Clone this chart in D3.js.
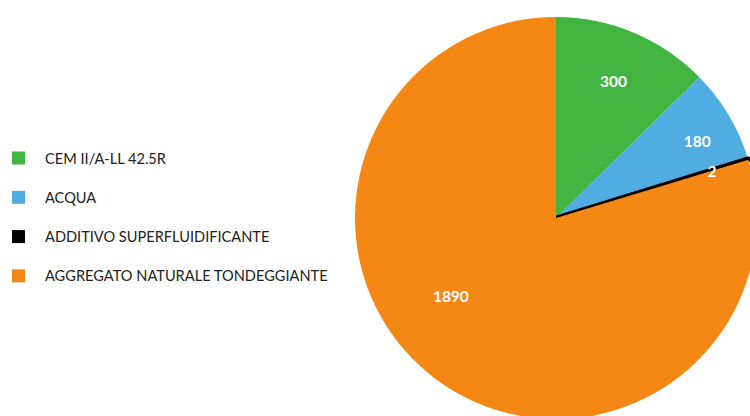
<!DOCTYPE html>
<html>
<head>
<meta charset="utf-8">
<script src="https://cdn.jsdelivr.net/npm/d3@7"></script>
<style>
  html, body { margin: 0; padding: 0; background: #fff; }
  svg { display: block; font-family: Lato, "Open Sans", sans-serif; }
</style>
</head>
<body>
<div id="chart"></div>
<script>
  // chart data
  var categories = ['CEM II/A-LL 42.5R', 'ACQUA', 'ADDITIVO SUPERFLUIDIFICANTE', 'AGGREGATO NATURALE TONDEGGIANTE'];
  var values = [300, 180, 2, 1890];
  var colors = ['#41b53f', '#50ade2', '#000000', '#f58715'];

  var width = 750;
  var height = 416;
  var radius = 201;
  var cx = 556;
  var cy = 218;

  // label placement (fraction of radius, angle shift in degrees) - best fit like the original
  var labelPlace = [[0.74, 0], [0.80, 2.3], [0.81, 0.3], [0.65, 17]];

  var svg = d3.select('#chart').append('svg')
    .attr('width', width)
    .attr('height', height);

  var data = categories.map(function (c, i) {
    return { name: c, value: values[i], color: colors[i] };
  });

  var pie = d3.pie()
    .sort(null)
    .value(function (d) { return d.value; });

  var arc = d3.arc()
    .innerRadius(0)
    .outerRadius(radius);

  var g = svg.append('g')
    .attr('transform', 'translate(' + cx + ',' + cy + ')');

  var arcs = pie(data);

  g.selectAll('path.slice')
    .data(arcs)
    .enter()
    .append('path')
    .attr('class', 'slice')
    .attr('d', arc)
    .attr('fill', function (d) { return d.data.color; })
    .attr('stroke', function (d) { return d.data.value < 10 ? '#000' : 'none'; })
    .attr('stroke-width', function (d) { return d.data.value < 10 ? 4.5 : 0; })
    .attr('stroke-linejoin', 'round');

  // value labels
  g.selectAll('text.val')
    .data(arcs)
    .enter()
    .append('text')
    .attr('class', 'val')
    .attr('transform', function (d, i) {
      var a = (d.startAngle + d.endAngle) / 2 + labelPlace[i][1] * Math.PI / 180;
      var r = radius * labelPlace[i][0];
      return 'translate(' + (r * Math.sin(a)) + ',' + (-r * Math.cos(a)) + ')';
    })
    .attr('text-anchor', 'middle')
    .attr('dominant-baseline', 'central')
    .attr('fill', '#fff')
    .attr('font-weight', 'bold')
    .attr('font-size', '15.5px')
    .text(function (d) { return d.data.value; });

  // legend
  var legend = svg.append('g')
    .attr('transform', 'translate(12,158)');

  var item = legend.selectAll('g.item')
    .data(data)
    .enter()
    .append('g')
    .attr('class', 'item')
    .attr('transform', function (d, i) { return 'translate(0,' + (i * 39.3) + ')'; });

  item.append('rect')
    .attr('x', 0)
    .attr('y', -6.5)
    .attr('width', 13)
    .attr('height', 13)
    .attr('fill', function (d) { return d.color; });

  item.append('text')
    .attr('x', 33)
    .attr('y', 0)
    .attr('dominant-baseline', 'central')
    .attr('font-size', '14.6px')
    .attr('fill', '#222')
    .text(function (d) { return d.name; });
</script>
</body>
</html>
